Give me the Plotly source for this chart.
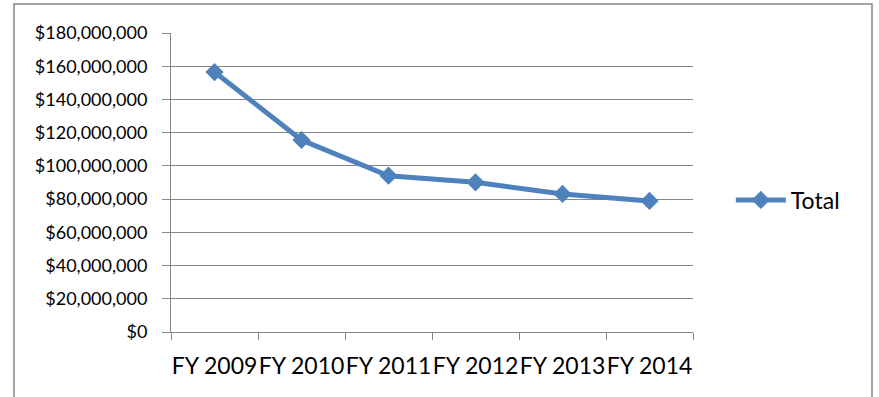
import plotly.graph_objects as go

# Fiscal-year totals
fiscal_years = ["FY 2009", "FY 2010", "FY 2011", "FY 2012", "FY 2013", "FY 2014"]
totals = [156_500_000, 115_600_000, 94_100_000, 90_100_000, 83_100_000, 78_900_000]
series_name = "Total"
y_ticks = [0, 20_000_000, 40_000_000, 60_000_000, 80_000_000,
           100_000_000, 120_000_000, 140_000_000, 160_000_000, 180_000_000]
y_tick_text = [f"${v:,}" for v in y_ticks]

BLUE = "#4F81BD"
GRID = "#868686"
FONT = "Lato, Calibri, sans-serif"

fig = go.Figure()
fig.add_trace(go.Scatter(
    x=fiscal_years,
    y=totals,
    name=series_name,
    mode="lines+markers",
    line=dict(color=BLUE, width=5),
    marker=dict(symbol="diamond", size=14, color=BLUE),
    showlegend=True,
))

# plot area: x 171..693, y 33..332 (pixels)
L, R, T, B = 171, 693, 33, 332
W, H = 879, 397

fig.update_layout(
    width=W, height=H,
    margin=dict(l=L, r=W - R, t=T, b=H - B, autoexpand=False),
    paper_bgcolor="white",
    plot_bgcolor="white",
    font=dict(family=FONT, color="black"),
    showlegend=True,
    legend=dict(
        x=1.0725, y=(B - 200) / (B - T), xanchor="left", yanchor="middle",
        font=dict(size=23, family=FONT, color="black"),
        itemwidth=50,
        bgcolor="rgba(0,0,0,0)",
    ),
    xaxis=dict(
        type="category",
        range=[-0.5, len(fiscal_years) - 0.5],
        showgrid=False,
        showline=True, linecolor=GRID, linewidth=1,
        ticks="outside", tickson="boundaries", ticklen=7,
        tickcolor=GRID, tickwidth=1,
        tickangle=0,
        tickfont=dict(size=23, family=FONT, color="black"),
        ticklabelstandoff=13,
        automargin=False,
        fixedrange=True,
    ),
    yaxis=dict(
        range=[0, 180_000_000],
        tickmode="array",
        tickvals=y_ticks,
        ticktext=y_tick_text,
        showgrid=True, gridcolor=GRID, gridwidth=1,
        showline=True, linecolor=GRID, linewidth=1,
        ticks="outside", ticklen=8, tickcolor=GRID, tickwidth=1,
        tickfont=dict(size=18, family=FONT, color="black"),
        ticklabelstandoff=11,
        zeroline=False,
        automargin=False,
        fixedrange=True,
    ),
)

# chart border
fig.add_shape(
    type="rect", xref="paper", yref="paper",
    xsizemode="pixel", ysizemode="pixel", xanchor=0, yanchor=1,
    x0=14 - L, x1=872 - L, y0=T - 4, y1=T - 420,
    line=dict(color=GRID, width=1.5), fillcolor="rgba(0,0,0,0)",
    layer="below",
)

fig.write_html("out.html")
